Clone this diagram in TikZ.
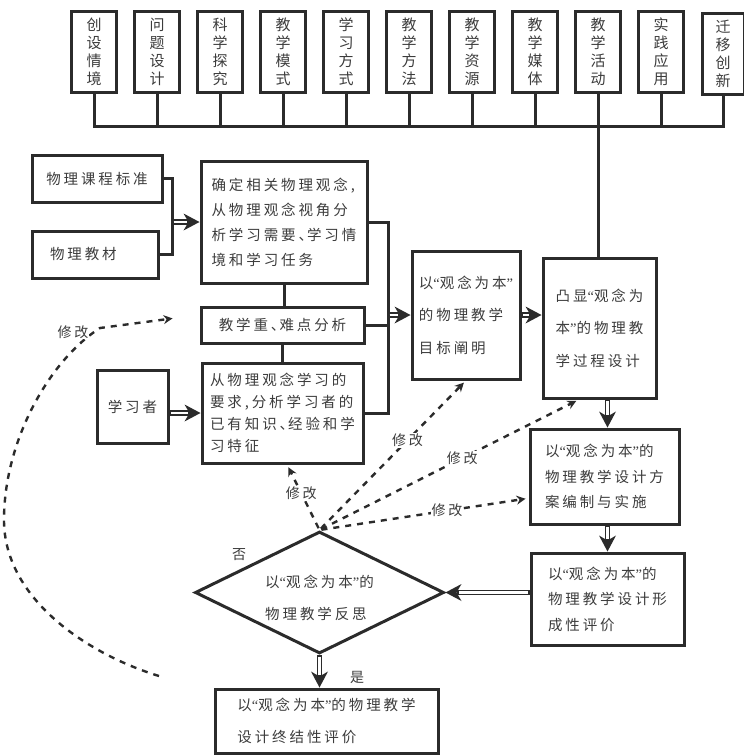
\documentclass[tikz,border=0pt]{standalone}
\usepackage{fontspec}
\usetikzlibrary{arrows.meta,shapes.geometric}
\newfontfamily\cjk[LetterSpace=20]{Noto Sans CJK SC}
\newfontfamily\cjkv{Noto Sans CJK SC}
\newfontfamily\qfont{Liberation Serif}
\newcommand\qL{{\qfont “}}
\newcommand\qR{{\qfont ”}}
\newcommand\dn{、\kern-6pt}
\newcommand\cfs[1]{\cjk\fontsize{14.5}{#1}\selectfont}
\newcommand\darr[2]{\draw[dblo] #1 -- #2; \draw[dbli] #1 -- #2;}
\definecolor{lc}{HTML}{2B2B2B}
\definecolor{tc}{HTML}{3C3C3C}
\begin{document}
\begin{tikzpicture}[x=1pt,y=-1pt,
  conn/.style={draw=lc,line width=3pt},
  box/.style={draw=lc,line width=3pt,rectangle,inner sep=0pt,text=tc,align=left,font=\cfs{25}},
  tbox/.style={draw=lc,line width=3pt,rectangle,inner sep=0pt,text=tc,align=center,
    minimum width=45pt,minimum height=81pt,font=\cjkv\fontsize{15}{18}\selectfont},
  dia/.style={draw=lc,line width=3pt,diamond,inner sep=0pt,text=tc,minimum width=249pt,minimum height=122pt,font=\cfs{32}},
  dblo/.style={draw=lc,line width=5.6pt,-{Stealth[length=16pt,width=17pt,inset=5pt,line width=0pt]}},
  dbli/.style={draw=white,line width=2.8pt,shorten >=13pt,shorten <=1.6pt},
  dsh/.style={draw=lc,line width=2.4pt,dash pattern=on 6pt off 6pt,shorten >=3pt,shorten <=2pt,-{Stealth[length=9pt,width=9pt,inset=3pt]}},
  lab/.style={fill=white,inner sep=1pt,text=tc,font=\cjk\fontsize{14}{16}\selectfont}
]
\useasboundingbox[fill=white] (0,0) rectangle (744,756);

% top row
\node[tbox] (t1) at (94,51.5) {创\\设\\情\\境};
\node[tbox] (t2) at (157,51.5) {问\\题\\设\\计};
\node[tbox] (t3) at (220,51.5) {科\\学\\探\\究};
\node[tbox] (t4) at (283,51.5) {教\\学\\模\\式};
\node[tbox] (t5) at (346,51.5) {学\\习\\方\\式};
\node[tbox] (t6) at (409,51.5) {教\\学\\方\\法};
\node[tbox] (t7) at (472,51.5) {教\\学\\资\\源};
\node[tbox] (t8) at (535,51.5) {教\\学\\媒\\体};
\node[tbox] (t9) at (598,51.5) {教\\学\\活\\动};
\node[tbox] (t10) at (661,51.5) {实\\践\\应\\用};
\node[tbox,minimum width=42pt] (t11) at (723,53.5) {迁\\移\\创\\新};

% left column
\node[box,minimum width=130pt,minimum height=47pt] (A) at (97,178.5) {物理课程标准};
\node[box,minimum width=126pt,minimum height=47pt,text width=90pt,inner xsep=18pt] (B) at (95,254.5) {物理教材};
\node[box,minimum width=166pt,minimum height=122pt,font=\cfs{25}] (C) at (284,222) {确定相关物理观念,\\从物理观念视角分\\析学习需要\dn 学习情\\境和学习任务};
\node[box,minimum width=163pt,minimum height=36pt] (D) at (282.5,325) {教学重\dn 难点分析};
\node[box,minimum width=161pt,minimum height=100pt,font=\cfs{22}] (E) at (282.5,413) {从物理观念学习的\\要求,分析学习者的\\已有知识\dn 经验和学\\习特征};
\node[box,minimum width=71pt,minimum height=73pt] (F) at (132.5,406.5) {学习者};

% right column
\node[box,minimum width=108pt,minimum height=128pt,font=\cfs{32.5}] (G) at (466,315) {以\qL 观念为本\qR\\的物理教学\\目标阐明};
\node[box,minimum width=113pt,minimum height=140pt,font=\cfs{32.5}] (H) at (599.5,328) {凸显\qL 观念为\\本\qR 的物理教\\学过程设计};
\node[box,minimum width=149pt,minimum height=95pt,font=\cfs{25.5}] (I) at (604.5,476.5) {以\qL 观念为本\qR 的\\物理教学设计方\\案编制与实施};
\node[box,minimum width=153pt,minimum height=92pt,font=\cfs{25.5}] (J) at (607.5,599) {以\qL 观念为本\qR 的\\物理教学设计形\\成性评价};

% decision and final
\node[dia] (K) at (319.5,592.5) {\smash{\makebox[0pt]{\raisebox{-8pt}{\begin{tabular}{@{}l@{}}以\qL 观念为本\qR 的\\物理教学反思\end{tabular}}}}};
\node[box,minimum width=223pt,minimum height=64pt,font=\cfs{32}] (L) at (326.5,721) {以\qL 观念为本\qR 的物理教学\\设计终结性评价};

\node[lab,fill=none] (no) at (239,555) {否};
\node[lab,fill=none] (yes) at (357,677) {是};

% top bus
\draw[conn] (t1.south) |- (t11.south |- 0,126) -- (t11.south);
\foreach \n in {t2,t3,t4,t5,t6,t7,t8,t10}
  \draw[conn] (\n.south) -- (\n.south |- 0,126);
\draw[conn] (t9.south) -- (t9.south |- H.north);

% left connectors
\coordinate (jAB) at (172,222);
\draw[conn] (A.east) -| (jAB) |- (B.east);
\darr{(jAB)}{(C.west)}
\draw[conn] (C.south) -- (C.south |- D.north);
\draw[conn] (D.south) -- (D.south |- E.north);
\darr{(F.east |- 0,413)}{(E.west |- 0,413)}

\coordinate (jR) at (388,315);
\draw[conn] (C.east) -| (jR) |- (E.east);
\draw[conn] (D.east) -- (D.east -| jR);
\darr{(jR)}{(G.west)}
\darr{(G.east)}{(G.east -| H.west)}
\darr{(H.south -| J.north)}{(I.north -| J.north)}
\darr{(I.south -| J.north)}{(J.north)}
\darr{(J.west |- K.east)}{(K.east)}
\darr{(K.south)}{(K.south |- L.north)}

% revision arrows
\draw[dsh] (K.north) -- node[lab,pos=0.56] (m1) {修改} (E.-85);
\draw[dsh] (K.north) -- node[lab,pos=0.6] (m2) {修改} (G.south);
\draw[dsh] (K.north) -- node[lab,pos=0.55] (m3) {修改} (H.-106);
\draw[dsh] (K.north) -- node[lab,pos=0.61] (m4) {修改} (I.196);

\coordinate (cs) at (159,676);
\draw[dsh,shorten <=0pt] (cs) .. controls (90,655) and (4,600) .. (4,520) .. controls (4,440) and (50,360) .. (100,328) -- ([xshift=-24pt,yshift=7pt]D.west);
\node[lab] (m5) at (73,332) {修改};
\end{tikzpicture}
\end{document}
